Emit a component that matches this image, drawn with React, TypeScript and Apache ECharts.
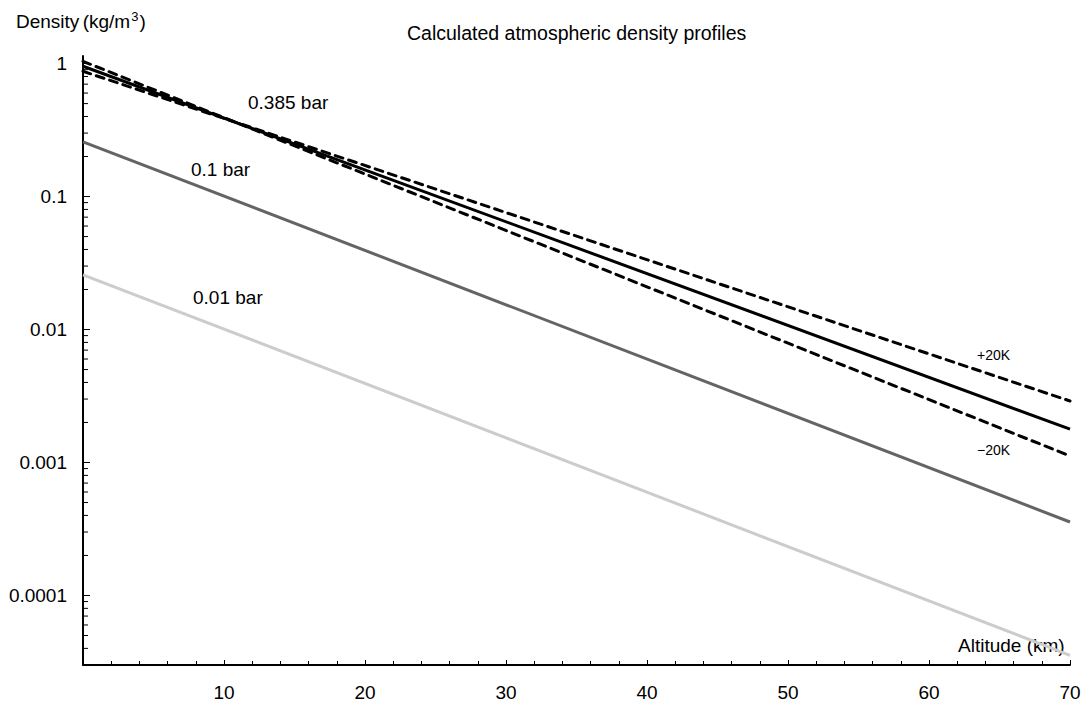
import React, { useEffect, useRef } from "react";
import * as echarts from "echarts";

const altitudes = [0, 70];
const bar0385 = [0.955, 0.00178];
const bar0385Plus20K = [0.875, 0.0029];
const bar0385Minus20K = [1.04, 0.00112];
const bar01 = [0.258, 0.000357];
const bar001 = [0.0258, 0.0000355];

const yMin = 0.00003;
const yMax = 1.14;
const decades = [-5, -4, -3, -2, -1, 0];
const mantissas = [1, 2, 3, 4, 5, 6, 7, 8, 9];

const FONT = "'Liberation Sans', Arial, Helvetica, sans-serif";
const FS = 19;

function pairs(ys: number[]) {
  return altitudes.map((x, i) => [x, ys[i]]);
}

export default function App() {
  const ref = useRef<HTMLDivElement>(null);
  useEffect(() => {
    if (!ref.current) return;
    const chart = echarts.init(ref.current, null, { renderer: "svg" });
    const tickData: number[][] = [];
    decades.forEach((d) => {
      mantissas.forEach((m) => {
        const v = m * Math.pow(10, d);
        if (v >= yMin && v <= yMax) tickData.push([0, v, m === 1 ? 1 : 0]);
      });
    });
    const txt = (x: number, y: number, text: string, fontSize = FS) => ({
      type: "text",
      x,
      y,
      style: { text, fontSize, fontFamily: FONT, fill: "#000", verticalAlign: "middle" },
    });
    chart.setOption({
      animation: false,
      grid: { left: 83, right: 19, top: 56, bottom: 40, containLabel: false },
      xAxis: {
        type: "value",
        min: 0,
        max: 70,
        interval: 10,
        axisLine: { lineStyle: { color: "#000", width: 2 } },
        axisTick: { show: true, inside: true, length: 5, lineStyle: { color: "#000" } },
        minorTick: { show: true, splitNumber: 5, length: 4, lineStyle: { color: "#000" } },
        splitLine: { show: false },
        axisLabel: {
          margin: 18,
          color: "#000",
          fontSize: FS,
          fontFamily: FONT,
          formatter: (v: number) => (v === 0 ? "" : String(v)),
        },
      },
      yAxis: {
        type: "log",
        logBase: 10,
        min: yMin,
        max: yMax,
        axisLine: { lineStyle: { color: "#000", width: 2 } },
        axisTick: { show: false },
        splitLine: { show: false },
        axisLabel: {
          margin: 16,
          color: "#000",
          fontSize: FS,
          fontFamily: FONT,
          showMinLabel: false,
          showMaxLabel: false,
          formatter: (v: number) => {
            const l = Math.log10(v);
            if (Math.abs(l - Math.round(l)) > 1e-6) return "";
            const e = Math.round(l);
            return e >= 0 ? String(Math.pow(10, e)) : Math.pow(10, e).toFixed(-e);
          },
        },
      },
      series: [
        {
          type: "custom",
          silent: true,
          clip: false,
          data: tickData,
          renderItem: (params: any, api: any) => {
            const p = api.coord([0, api.value(1)]);
            const len = api.value(2) ? 7 : 5;
            return {
              type: "line",
              shape: { x1: p[0], y1: p[1], x2: p[0] + len, y2: p[1] },
              style: { stroke: "#000", lineWidth: 1 },
            };
          },
        },
        {
          type: "line",
          data: pairs(bar001),
          symbol: "none",
          lineStyle: { color: "#cccccc", width: 3 },
        },
        {
          type: "line",
          data: pairs(bar01),
          symbol: "none",
          lineStyle: { color: "#646464", width: 3 },
        },
        {
          type: "line",
          data: pairs(bar0385),
          symbol: "none",
          lineStyle: { color: "#000", width: 3 },
        },
        {
          type: "line",
          data: pairs(bar0385Plus20K),
          symbol: "none",
          lineStyle: { color: "#000", width: 3, type: [8, 6], cap: "round" },
        },
        {
          type: "line",
          data: pairs(bar0385Minus20K),
          symbol: "none",
          lineStyle: { color: "#000", width: 3, type: [8, 6], cap: "round" },
        },
      ],
      graphic: [
        {
          type: "text",
          x: 16,
          y: 21,
          style: {
            text: "{a|Density} {b|(kg/m}{s|3}{b|)}",
            verticalAlign: "middle",
            rich: {
              a: { fontSize: FS, fontFamily: FONT, fill: "#000" },
              b: { fontSize: 19, fontFamily: FONT, fill: "#000" },
              s: { fontSize: 13, fontFamily: FONT, fill: "#000", verticalAlign: "top", padding: [0, 1, 10, 1] },
            },
          },
        },
        txt(407, 33, "Calculated atmospheric density profiles", 19.5),
        txt(248, 102, "0.385 bar"),
        txt(191, 169, "0.1 bar"),
        txt(193, 297, "0.01 bar"),
        txt(977, 355, "+20K", 14),
        txt(977, 450, "\u221220K", 14),
        txt(958, 645, "Altitude (km)"),
      ],
    });
    return () => chart.dispose();
  }, []);
  return (
    <div
      ref={ref}
      style={{ position: "fixed", left: 0, top: 0, width: 1089, height: 705, background: "#fff" }}
    />
  );
}
